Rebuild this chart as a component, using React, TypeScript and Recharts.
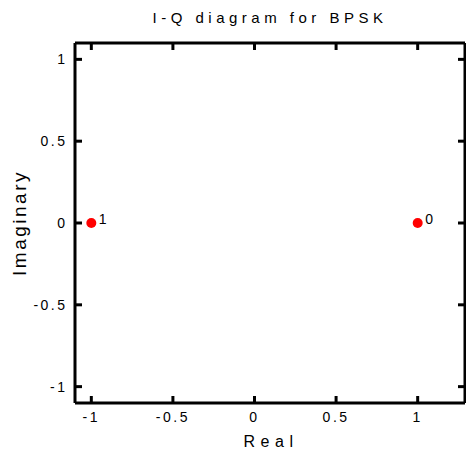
import { ScatterChart, Scatter, XAxis, YAxis } from 'recharts'

// BPSK constellation: two symbols on the real axis
const realValues = [-1, 1]
const imagValues = [0, 0]
const symbolLabels = ['1', '0']

const xTicks = [-1, -0.5, 0, 0.5, 1]
const yTicks = [-1, -0.5, 0, 0.5, 1]

const points = realValues.map((x, i) => ({ x, y: imagValues[i], label: symbolLabels[i] }))

const FONT = '"Liberation Sans", Arial, sans-serif'
const STUB = -7

const frame = { stroke: '#000', strokeWidth: 3 }
const stub = { stroke: '#000', strokeWidth: 3 }
const tickText = { fontSize: 14, fontFamily: FONT, fill: '#000', letterSpacing: 2.5 }
const hideLabel = () => ''

function SymbolDot({ cx, cy, payload }: any) {
  return (
    <g>
      <circle cx={cx} cy={cy} r={5} fill="#ff0000" />
      <text x={cx + 7.5} y={cy + 0.5} fontSize={14} fontFamily={FONT} fill="#000">
        {payload.label}
      </text>
    </g>
  )
}

export default function App() {
  return (
    <div style={{ position: 'absolute', left: 0, top: 0, width: 466, height: 453, background: '#fff' }}>
      {/* titles sit underneath the chart svg */}
      <svg
        width={466}
        height={453}
        style={{ position: 'absolute', left: 0, top: 0, pointerEvents: 'none' }}
      >
        <text x={270} y={23} textAnchor="middle" fontSize={15} fontFamily={FONT} letterSpacing={4.5} fill="#000">
          I-Q diagram for BPSK
        </text>
        <text x={271} y={447} textAnchor="middle" fontSize={16} fontFamily={FONT} letterSpacing={5.5} fill="#000">
          Real
        </text>
        <text
          transform="translate(26,223) rotate(-90)"
          textAnchor="middle"
          fontSize={19}
          fontFamily={FONT}
          letterSpacing={2.5}
          fill="#000"
        >
          Imaginary
        </text>
      </svg>
      <ScatterChart width={466} height={453} margin={{ top: 33, right: 0, bottom: 20, left: 35 }}>
        <XAxis
          xAxisId="bottom"
          type="number"
          dataKey="x"
          domain={[-1.1, 1.29]}
          ticks={xTicks}
          allowDataOverflow
          height={30}
          tickSize={STUB}
          tickMargin={16}
          tickLine={stub}
          axisLine={frame}
          tick={tickText}
          interval={0}
        />
        <XAxis
          xAxisId="top"
          orientation="top"
          type="number"
          dataKey="x"
          domain={[-1.1, 1.29]}
          ticks={xTicks}
          allowDataOverflow
          height={10}
          tickSize={STUB}
          tickLine={stub}
          axisLine={frame}
          tick={tickText}
          tickFormatter={hideLabel}
          interval={0}
        />
        <YAxis
          yAxisId="left"
          type="number"
          dataKey="y"
          domain={[-1.1, 1.1]}
          ticks={yTicks}
          allowDataOverflow
          width={40}
          tickSize={STUB}
          tickMargin={14.5}
          tickLine={stub}
          axisLine={frame}
          tick={tickText}
          interval={0}
        />
        <YAxis
          yAxisId="right"
          orientation="right"
          type="number"
          dataKey="y"
          domain={[-1.1, 1.1]}
          ticks={yTicks}
          allowDataOverflow
          width={1}
          tickSize={STUB}
          tickLine={stub}
          axisLine={frame}
          tick={tickText}
          tickFormatter={hideLabel}
          interval={0}
        />
        <Scatter
          data={points}
          xAxisId="bottom"
          yAxisId="left"
          shape={<SymbolDot />}
          isAnimationActive={false}
        />
      </ScatterChart>
    </div>
  )
}
